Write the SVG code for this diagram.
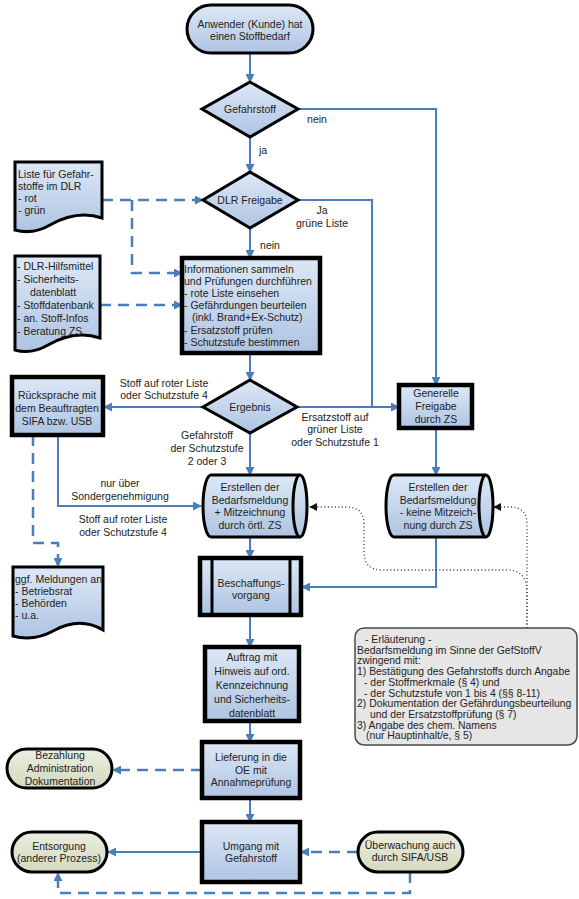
<svg xmlns="http://www.w3.org/2000/svg" width="579" height="899" viewBox="0 0 579 899">
  <defs>
    <linearGradient id="blueFill" x1="0" y1="0" x2="0" y2="1">
      <stop offset="0" stop-color="#dde8f6"/>
      <stop offset="1" stop-color="#aec4e2"/>
    </linearGradient>
    <linearGradient id="greenFill" x1="0" y1="0" x2="0" y2="1">
      <stop offset="0" stop-color="#eceedf"/>
      <stop offset="1" stop-color="#d3d9bd"/>
    </linearGradient>
    <marker id="arrow" viewBox="0 0 10 10" refX="9" refY="5" markerWidth="9" markerHeight="9" markerUnits="userSpaceOnUse" orient="auto">
      <path d="M0,0 L10,5 L0,10 Z" fill="#4a7ebb"/>
    </marker>
    <marker id="arrowDot" viewBox="0 0 10 10" refX="9" refY="5" markerWidth="8" markerHeight="8" markerUnits="userSpaceOnUse" orient="auto">
      <path d="M0,0 L10,5 L0,10 Z" fill="#111"/>
    </marker>
  </defs>
  <style>
    text { font-family: "Liberation Sans", Arial, sans-serif; font-size: 10.5px; fill: #222; }
    .c { text-anchor: middle; }
    .note text { font-size: 10.4px; }
    .box { fill: url(#blueFill); stroke: #000; stroke-width: 4.5; }
    .shape { fill: url(#blueFill); stroke: #000; stroke-width: 3; }
    .term { fill: url(#greenFill); stroke: #000; stroke-width: 3; }
    .flow { fill: none; stroke: #4a7ebb; stroke-width: 2; }
    .dash { fill: none; stroke: #4a7ebb; stroke-width: 2.5; stroke-dasharray: 11 7; }
    .dot { fill: none; stroke: #333; stroke-width: 1.3; stroke-dasharray: 1 2.5; }
  </style>

  <!-- connectors -->
  <g id="connectors">
    <path class="flow" d="M250,53 V82" marker-end="url(#arrow)"/>
    <path class="flow" d="M298,109 H436 V385" marker-end="url(#arrow)"/>
    <path class="flow" d="M250,137 V172" marker-end="url(#arrow)"/>
    <path class="flow" d="M298,200 H372 V407"/>
    <path class="flow" d="M250,228 V258" marker-end="url(#arrow)"/>
    <path class="flow" d="M250,353 V380" marker-end="url(#arrow)"/>
    <path class="flow" d="M203,407 H104" marker-end="url(#arrow)"/>
    <path class="flow" d="M297,407 H399" marker-end="url(#arrow)"/>
    <path class="flow" d="M250,433 V475" marker-end="url(#arrow)"/>
    <path class="flow" d="M58,435 V506 H201" marker-end="url(#arrow)"/>
    <path class="flow" d="M436,428 V475" marker-end="url(#arrow)"/>
    <path class="flow" d="M250,537 V558" marker-end="url(#arrow)"/>
    <path class="flow" d="M436,536 V587 H302" marker-end="url(#arrow)"/>
    <path class="flow" d="M250,615 V647" marker-end="url(#arrow)"/>
    <path class="flow" d="M250,721 V742" marker-end="url(#arrow)"/>
    <path class="flow" d="M250,798 V822" marker-end="url(#arrow)"/>
    <path class="flow" d="M202,852 H108" marker-end="url(#arrow)"/>

    <path class="dash" d="M102,200 H203" marker-end="url(#arrow)"/>
    <path class="dash" d="M132,200 V273 H182" marker-end="url(#arrow)"/>
    <path class="dash" d="M100,305 H182" marker-end="url(#arrow)"/>
    <path class="dash" d="M33,435 V543 H58 V566" marker-end="url(#arrow)"/>
    <path class="dash" d="M202,770 H113" marker-end="url(#arrow)"/>
    <path class="dash" d="M358,852 H301" marker-end="url(#arrow)"/>
    <path class="dash" d="M410,872 V893 H58 V873" marker-end="url(#arrow)"/>

    <path class="dot" d="M527,628 V592 Q527,570 507,570 H382 Q364,570 364,552 V524 Q364,507 347,507 H310" marker-end="url(#arrowDot)"/>
    <path class="dot" d="M527,628 V524 Q527,507 510,507 H494" marker-end="url(#arrowDot)"/>

    <text x="317" y="123" class="c">nein</text>
    <text x="263" y="154" class="c">ja</text>
    <text x="322" y="214" class="c">Ja</text>
    <text x="322" y="227" class="c">grüne Liste</text>
    <text x="270" y="249" class="c">nein</text>
    <text x="164" y="387" class="c">Stoff auf roter Liste</text>
    <text x="164" y="399" class="c">oder Schutzstufe 4</text>
    <text x="207" y="439" class="c">Gefahrstoff</text>
    <text x="207" y="452" class="c">der Schutzstufe</text>
    <text x="207" y="465" class="c">2 oder 3</text>
    <text x="335" y="421" class="c">Ersatzstoff auf</text>
    <text x="335" y="433" class="c">grüner Liste</text>
    <text x="335" y="446" class="c">oder Schutzstufe 1</text>
    <text x="120" y="487" class="c">nur über</text>
    <text x="120" y="500" class="c">Sondergenehmigung</text>
    <text x="123" y="523" class="c">Stoff auf roter Liste</text>
    <text x="123" y="536" class="c">oder Schutzstufe 4</text>
  </g>

  <!-- start -->
  <g id="start">
    <rect class="shape" x="187" y="5" width="126" height="48" rx="24"/>
    <text x="250" y="28" class="c">Anwender (Kunde) hat</text>
    <text x="250" y="40" class="c">einen Stoffbedarf</text>
  </g>

  <g id="gefahrstoff">
    <path class="shape" d="M250,82 L298,109 L250,137 L202,109 Z"/>
    <text x="250" y="113" class="c">Gefahrstoff</text>
  </g>

  <g id="dlr-freigabe">
    <path class="shape" d="M250,172 L298,200 L250,228 L203,200 Z"/>
    <text x="250" y="204" class="c">DLR Freigabe</text>
  </g>

  <g id="liste-dokument">
    <path class="shape" d="M15,162 H102 V218 C84,212 66,216 50,225 C38,232 26,233 15,230 Z"/>
    <text x="18" y="178">Liste für Gefahr-</text>
    <text x="18" y="190">stoffe im DLR</text>
    <text x="18" y="202">- rot</text>
    <text x="18" y="214">- grün</text>
  </g>

  <g id="hilfsmittel-dokument">
    <path class="shape" d="M15,256 H100 V338 C82,332 64,336 48,345 C36,352 25,353 15,350 Z"/>
    <text x="17" y="270">- DLR-Hilfsmittel</text>
    <text x="17" y="283">- Sicherheits-</text>
    <text x="30" y="296">datenblatt</text>
    <text x="17" y="309">- Stoffdatenbank</text>
    <text x="17" y="322">- an. Stoff-Infos</text>
    <text x="17" y="335">- Beratung ZS</text>
  </g>

  <g id="informationen">
    <rect class="box" x="182" y="258" width="138" height="95"/>
    <text x="184" y="273">Informationen sammeln</text>
    <text x="184" y="285">und Prüfungen durchführen</text>
    <text x="184" y="297">- rote Liste einsehen</text>
    <text x="184" y="309">- Gefährdungen beurteilen</text>
    <text x="192" y="321">(inkl. Brand+Ex-Schutz)</text>
    <text x="184" y="334">- Ersatzstoff prüfen</text>
    <text x="184" y="346">- Schutzstufe bestimmen</text>
  </g>

  <g id="ergebnis">
    <path class="shape" d="M250,380 L297,407 L250,433 L203,407 Z"/>
    <text x="250" y="411" class="c">Ergebnis</text>
  </g>

  <g id="ruecksprache">
    <rect class="box" x="12" y="377" width="91" height="58"/>
    <text x="57" y="399" class="c">Rücksprache mit</text>
    <text x="57" y="412" class="c">dem Beauftragten</text>
    <text x="57" y="425" class="c">SIFA bzw. USB</text>
  </g>

  <g id="generelle-freigabe">
    <rect class="box" x="399" y="385" width="73" height="43"/>
    <text x="436" y="397" class="c">Generelle</text>
    <text x="436" y="410" class="c">Freigabe</text>
    <text x="436" y="423" class="c">durch ZS</text>
  </g>

  <g id="bedarfsmeldung-mitzeichnung">
    <path class="shape" d="M211,475 H300 A7,31 0 0 1 300,537 H211 A8,31 0 0 1 211,475 Z"/>
    <path class="shape" d="M300,475 A7,31 0 0 0 300,537"/>
    <text x="250" y="491" class="c">Erstellen der</text>
    <text x="250" y="504" class="c">Bedarfsmeldung</text>
    <text x="250" y="516" class="c">+ Mitzeichnung</text>
    <text x="250" y="529" class="c">durch örtl. ZS</text>
  </g>

  <g id="bedarfsmeldung-ohne">
    <path class="shape" d="M394,475 H486 A7,31 0 0 1 486,537 H394 A8,31 0 0 1 394,475 Z"/>
    <path class="shape" d="M486,475 A7,31 0 0 0 486,537"/>
    <text x="438" y="491" class="c">Erstellen der</text>
    <text x="438" y="504" class="c">Bedarfsmeldung</text>
    <text x="438" y="516" class="c">- keine Mitzeich-</text>
    <text x="438" y="529" class="c">nung durch ZS</text>
  </g>

  <g id="meldungen-dokument">
    <path class="shape" d="M13,567 H103 V630 C86,620 70,622 55,630 C41,638 27,640 13,636 Z"/>
    <text x="15" y="583">ggf. Meldungen an</text>
    <text x="15" y="595">- Betriebsrat</text>
    <text x="15" y="607">- Behörden</text>
    <text x="15" y="619">- u.a.</text>
  </g>

  <g id="beschaffung">
    <rect class="box" x="200" y="558" width="101" height="57"/>
    <path d="M212,558 V615 M290,558 V615" stroke="#000" stroke-width="3"/>
    <text x="251" y="587" class="c">Beschaffungs-</text>
    <text x="251" y="599" class="c">vorgang</text>
  </g>

  <g id="auftrag">
    <rect class="box" x="205" y="647" width="94" height="74"/>
    <text x="252" y="661" class="c">Auftrag mit</text>
    <text x="252" y="675" class="c">Hinweis auf ord.</text>
    <text x="252" y="689" class="c">Kennzeichnung</text>
    <text x="252" y="703" class="c">und Sicherheits-</text>
    <text x="252" y="717" class="c">datenblatt</text>
  </g>

  <g id="erlaeuterung" class="note">
    <rect x="355" y="628" width="222" height="117" rx="9" fill="#e6e6e6" stroke="#4a4a4a" stroke-width="1.5"/>
    <text x="365" y="643">- Erläuterung -</text>
    <text x="357" y="653.7">Bedarfsmeldung im Sinne der GefStoffV</text>
    <text x="357" y="664.4">zwingend mit:</text>
    <text x="357" y="675.1">1) Bestätigung des Gefahrstoffs durch Angabe</text>
    <text x="364" y="685.8">- der Stoffmerkmale (§ 4) und</text>
    <text x="364" y="696.5">- der Schutzstufe von 1 bis 4 (§§ 8-11)</text>
    <text x="357" y="707.2">2) Dokumentation der Gefährdungsbeurteilung</text>
    <text x="370" y="717.9">und der Ersatzstoffprüfung (§ 7)</text>
    <text x="357" y="728.6">3) Angabe des chem. Namens</text>
    <text x="366" y="739.3">(nur Hauptinhalt/e, § 5)</text>
  </g>

  <g id="lieferung">
    <rect class="box" x="202" y="742" width="98" height="56"/>
    <text x="251" y="761" class="c">Lieferung in die</text>
    <text x="251" y="774" class="c">OE mit</text>
    <text x="251" y="786" class="c">Annahmeprüfung</text>
  </g>

  <g id="bezahlung">
    <rect class="term" x="7" y="749" width="105" height="39" rx="19.5"/>
    <text x="60" y="759" class="c">Bezahlung</text>
    <text x="60" y="772" class="c">Administration</text>
    <text x="60" y="785" class="c">Dokumentation</text>
  </g>

  <g id="umgang">
    <rect class="box" x="202" y="822" width="98" height="60"/>
    <text x="251" y="850" class="c">Umgang mit</text>
    <text x="251" y="862" class="c">Gefahrstoff</text>
  </g>

  <g id="entsorgung">
    <rect class="term" x="12" y="832" width="95" height="40" rx="20"/>
    <text x="59" y="850" class="c">Entsorgung</text>
    <text x="59" y="862" class="c">(anderer Prozess)</text>
  </g>

  <g id="ueberwachung">
    <rect class="term" x="358" y="832" width="105" height="40" rx="20"/>
    <text x="410" y="849" class="c">Überwachung auch</text>
    <text x="410" y="861" class="c">durch SIFA/USB</text>
  </g>
</svg>
